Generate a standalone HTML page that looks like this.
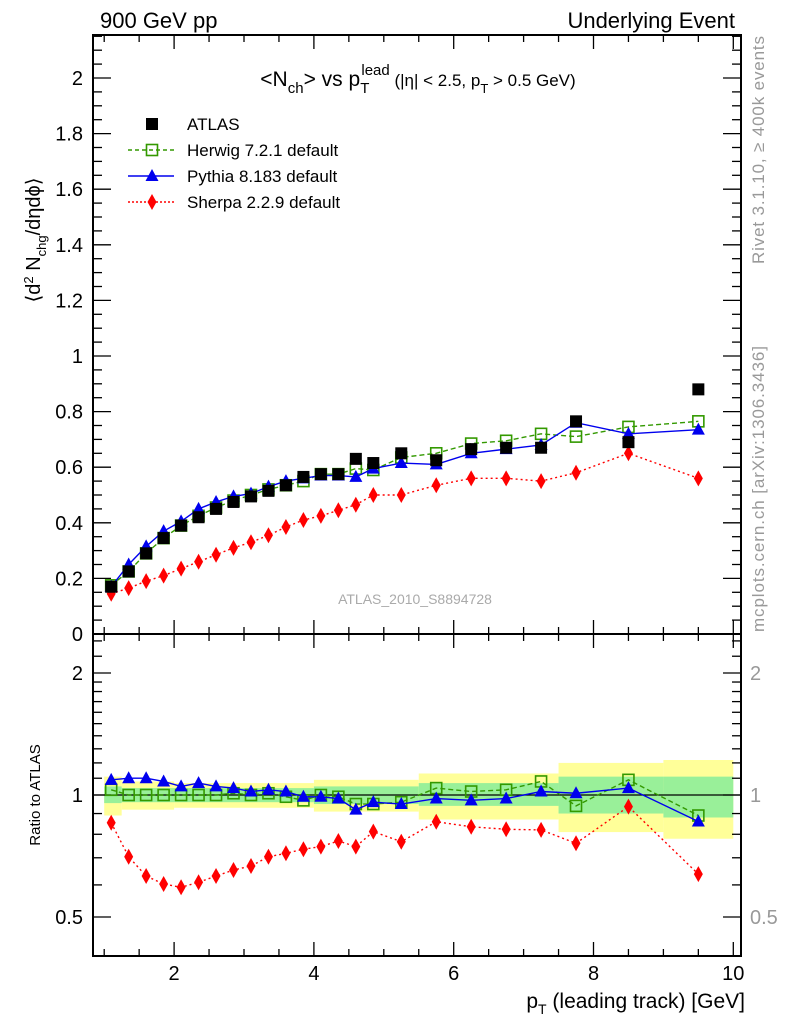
<!DOCTYPE html>
<html><head><meta charset="utf-8"><style>
html,body{margin:0;padding:0;background:#fff;}
svg{display:block;font-family:"Liberation Sans",sans-serif;}
</style></head><body>
<svg id="c" width="786" height="1024" viewBox="0 0 786 1024">
<text x="100" y="28" font-size="22">900 GeV pp</text>
<text x="735" y="28" font-size="22" text-anchor="end">Underlying Event</text>
<text x="418" y="86" font-size="21" text-anchor="middle">&lt;N<tspan font-size="15" dy="7">ch</tspan><tspan dy="-7">&gt; vs p</tspan><tspan font-size="15" dy="7">T</tspan><tspan font-size="15" dx="-8" dy="-18">lead</tspan><tspan font-size="17" dy="11"> (|η| &lt; 2.5, p</tspan><tspan font-size="13" dy="7">T</tspan><tspan font-size="17" dy="-7"> &gt; 0.5 GeV)</tspan></text>
<text transform="translate(40,240) rotate(-90)" font-size="20" text-anchor="middle">⟨d<tspan font-size="13" dy="-7">2</tspan><tspan dy="7"> N</tspan><tspan font-size="13" dy="6">chg</tspan><tspan dy="-6">/dηdϕ⟩</tspan></text>
<text transform="translate(40,795) rotate(-90)" font-size="15" text-anchor="middle">Ratio to ATLAS</text>
<text x="745" y="1008" font-size="21" text-anchor="end">p<tspan font-size="14" dy="6">T</tspan><tspan dy="-6"> (leading track) [GeV]</tspan></text>
<text transform="translate(764,264) rotate(-90)" font-size="17" fill="#999" textLength="228">Rivet 3.1.10, ≥ 400k events</text>
<text transform="translate(764,632) rotate(-90)" font-size="17" fill="#999" textLength="286">mcplots.cern.ch [arXiv:1306.3436]</text>
<text x="415" y="604" font-size="14" fill="#aaa" text-anchor="middle">ATLAS_2010_S8894728</text>
<g id="g"></g>
</svg>
<script>
const xVals=[1.1,1.35,1.6,1.85,2.1,2.35,2.6,2.85,3.1,3.35,3.6,3.85,4.1,4.35,4.6,4.85,5.25,5.75,6.25,6.75,7.25,7.75,8.5,9.5];
const atlas=[0.17,0.225,0.29,0.345,0.39,0.42,0.45,0.475,0.495,0.515,0.535,0.565,0.575,0.575,0.63,0.615,0.65,0.625,0.665,0.67,0.67,0.765,0.69,0.88];
const herwig=[0.175,0.225,0.29,0.345,0.39,0.425,0.455,0.48,0.5,0.52,0.535,0.55,0.575,0.575,0.595,0.59,0.635,0.65,0.685,0.695,0.72,0.71,0.745,0.765];
const pythia=[0.17,0.25,0.315,0.37,0.405,0.45,0.475,0.495,0.505,0.53,0.55,0.56,0.57,0.57,0.565,0.595,0.615,0.61,0.65,0.665,0.68,0.76,0.72,0.735];
const sherpa=[0.145,0.165,0.19,0.21,0.235,0.26,0.285,0.31,0.33,0.355,0.385,0.41,0.425,0.445,0.465,0.5,0.5,0.535,0.56,0.56,0.55,0.58,0.65,0.56];
const rHerwig=[1.03,1.0,1.0,1.0,1.0,1.0,1.0,1.01,1.0,1.01,0.99,0.97,1.0,0.99,0.95,0.95,0.96,1.04,1.02,1.03,1.08,0.94,1.09,0.89];
const rPythia=[1.09,1.10,1.10,1.08,1.05,1.07,1.05,1.04,1.02,1.03,1.02,0.99,0.99,0.98,0.92,0.96,0.95,0.98,0.97,0.98,1.02,1.01,1.04,0.86];
const rSherpa=[0.854,0.704,0.631,0.603,0.592,0.609,0.631,0.653,0.668,0.704,0.718,0.735,0.746,0.770,0.746,0.812,0.767,0.859,0.835,0.823,0.820,0.760,0.936,0.638];
const bandEdges=[1,1.25,2,3,4,5.5,7.5,9,10];
const yelUp=[1.11,1.08,1.07,1.07,1.09,1.13,1.2,1.22];
const yelDn=[0.89,0.92,0.93,0.93,0.91,0.87,0.81,0.78];
const grnUp=[1.05,1.04,1.04,1.04,1.05,1.07,1.11,1.11];
const grnDn=[0.955,0.96,0.96,0.96,0.95,0.94,0.9,0.88];
const xTicks=[2,4,6,8,10];
const yTicks=[0,0.2,0.4,0.6,0.8,1,1.2,1.4,1.6,1.8,2];
const rTicks=[0.5,1,2];

const NS='http://www.w3.org/2000/svg', g=document.getElementById('g');
const L=93,R=741,T=35,MB=634,RB=956;
const X=v=>34.3+69.9*v;
const Y=v=>634-278*v;
const RY=v=>795-122*Math.log2(v);
function el(t,a,p){const e=document.createElementNS(NS,t);for(const k in a)e.setAttribute(k,a[k]);(p||g).appendChild(e);return e;}

for(let i=0;i<yelUp.length;i++){
  const b=el('rect',{x:X(bandEdges[i]),y:RY(yelUp[i]),width:X(bandEdges[i+1])-X(bandEdges[i]),height:RY(yelDn[i])-RY(yelUp[i]),fill:'#ffff99'});
  
  
}
for(let i=0;i<grnUp.length;i++){
  const b=el('rect',{x:X(bandEdges[i]),y:RY(grnUp[i]),width:X(bandEdges[i+1])-X(bandEdges[i]),height:RY(grnDn[i])-RY(grnUp[i]),fill:'#99f099'});
  
  
}
el('line',{x1:L,x2:R,y1:RY(1),y2:RY(1),stroke:'#000','stroke-width':1.2});

for(const [t,b] of [[T,MB],[MB,RB]]){
  const f=el('rect',{x:L,y:t,width:R-L,height:b-t,fill:'none',stroke:'#000','stroke-width':2});
  
  
  for(let v=1;v<=10.01;v+=0.5){
    const big=Math.abs(v-Math.round(v/2)*2)<1e-6;const len=big?14:7;
    el('line',{x1:X(v),x2:X(v),y1:b,y2:b-len,stroke:'#000','stroke-width':1.3});
    el('line',{x1:X(v),x2:X(v),y1:t,y2:t+len,stroke:'#000','stroke-width':1.3});
  }
}
for(const v of xTicks){
  const t=el('text',{x:X(v),y:980,'font-size':20,'text-anchor':'middle'});t.textContent=v;
  
  
}
for(let i=0;i<=43;i++){
  const v=i*0.05,big=i%4===0,len=big?18:9,y=Y(v);if(y<T)break;
  el('line',{x1:L,x2:L+len,y1:y,y2:y,stroke:'#000','stroke-width':1.3});
  el('line',{x1:R,x2:R-len,y1:y,y2:y,stroke:'#000','stroke-width':1.3});
}
for(const v of yTicks){
  const t=el('text',{x:83,y:Y(v)+7,'font-size':20,'text-anchor':'end'});t.textContent=v;
  
  
}
const rMinor=[0.4,0.6,0.7,0.8,0.9,1.1,1.2,1.3,1.4,1.5,1.6,1.7,1.8,1.9,2.2,2.4];
for(const v of rMinor){el('line',{x1:L,x2:L+9,y1:RY(v),y2:RY(v),stroke:'#000','stroke-width':1.3});el('line',{x1:R,x2:R-9,y1:RY(v),y2:RY(v),stroke:'#000','stroke-width':1.3});}
for(const v of rTicks){
  el('line',{x1:L,x2:L+18,y1:RY(v),y2:RY(v),stroke:'#000','stroke-width':1.3});
  el('line',{x1:R,x2:R-18,y1:RY(v),y2:RY(v),stroke:'#000','stroke-width':1.3});
  const t=el('text',{x:83,y:RY(v)+7,'font-size':20,'text-anchor':'end'});t.textContent=v;
  
  
  const t2=el('text',{x:750,y:RY(v)+7,'font-size':20,fill:'#999'});t2.textContent=v;
  
  
}

function marker(type,cx,cy,col){
  if(type==='sq') return el('rect',{x:cx-6,y:cy-6,width:12,height:12,fill:'#000'});
  if(type==='osq') return el('rect',{x:cx-5.5,y:cy-5.5,width:11,height:11,fill:'none',stroke:col,'stroke-width':1.6});
  if(type==='tri') return el('path',{d:`M${cx},${cy-7}L${cx+6.5},${cy+5}L${cx-6.5},${cy+5}Z`,fill:col});
  return el('path',{d:`M${cx},${cy-8}L${cx+4.5},${cy}L${cx},${cy+8}L${cx-4.5},${cy}Z`,fill:col});
}
function series(vals,fy,type,col,dash,name){
  if(col){
    const pl=el('polyline',{points:vals.map((v,i)=>X(xVals[i])+','+fy(v)).join(' '),fill:'none',stroke:col,'stroke-width':1.4,'stroke-dasharray':dash});
    
    
  }
  vals.forEach((v,i)=>{const m=marker(type,X(xVals[i]),fy(v),col);
    
    });
}
series(herwig,Y,'osq','#339900','5,3','herwig');
series(sherpa,Y,'dia','#ff0000','2,3','sherpa');
series(pythia,Y,'tri','#0000ee','none','pythia');
series(atlas,Y,'sq',null,'','atlas');
series(rHerwig,RY,'osq','#339900','5,3','herwig-ratio');
series(rSherpa,RY,'dia','#ff0000','2,3','sherpa-ratio');
series(rPythia,RY,'tri','#0000ee','none','pythia-ratio');

const leg=[['ATLAS','sq',null,''],['Herwig 7.2.1 default','osq','#339900','4,3'],['Pythia 8.183 default','tri','#0000ee','none'],['Sherpa 2.2.9 default','dia','#ff0000','2,2']];
leg.forEach((l,i)=>{
  const y=124+i*26;
  if(l[2]){el('line',{x1:128,x2:174,y1:y,y2:y,stroke:l[2],'stroke-width':1.4,'stroke-dasharray':l[3]});}
  marker(l[1],152,y,l[2]);
  const t=el('text',{x:187,y:y+6,'font-size':17});t.textContent=l[0];
  
  
});
</script>
</body></html>
